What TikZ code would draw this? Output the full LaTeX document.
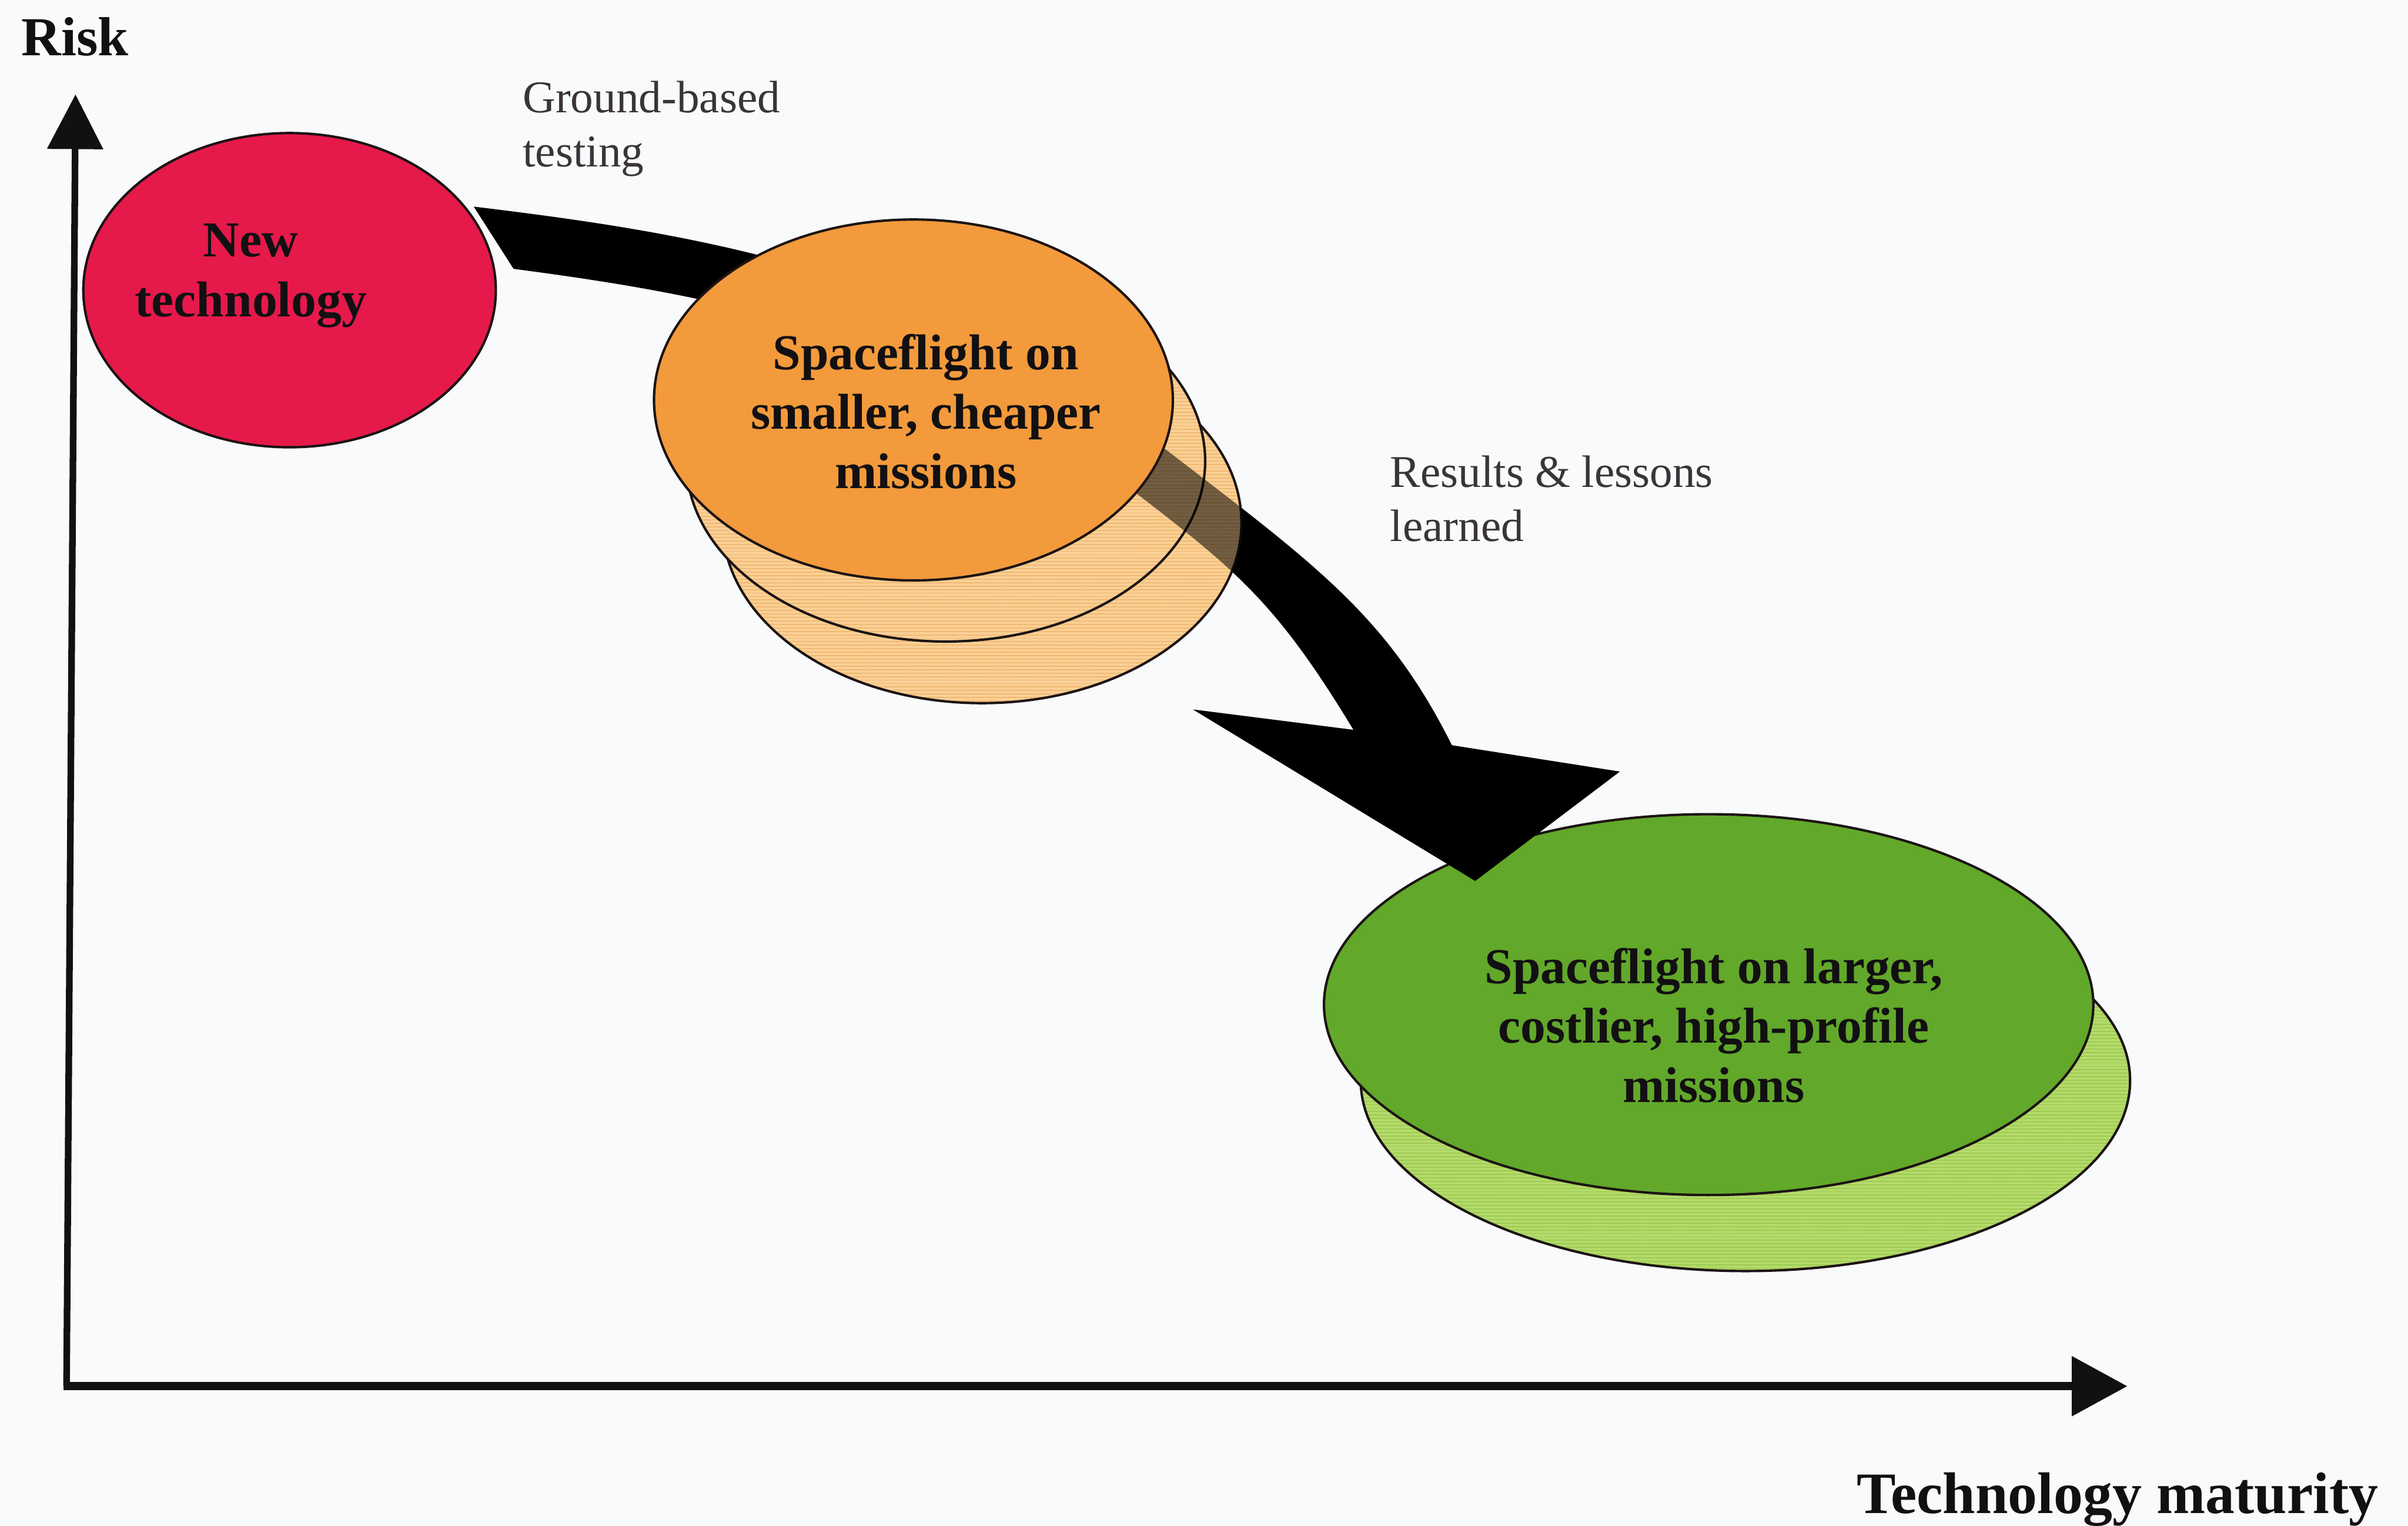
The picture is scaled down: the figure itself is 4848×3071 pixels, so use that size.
\documentclass[tikz,border=0pt]{standalone}
\usepackage{fontspec}
\setmainfont{Liberation Serif}
\usetikzlibrary{arrows.meta,shapes.geometric,patterns.meta}

\definecolor{paper}{HTML}{F8FAFC}
\definecolor{newred}{HTML}{E6194B}
\definecolor{orangetop}{HTML}{F29A3C}
\definecolor{orangelow}{HTML}{FAD096}
\definecolor{orangestripe}{HTML}{F0B870}
\definecolor{greentop}{HTML}{62A82A}
\definecolor{greenlow}{HTML}{B4DA6C}
\definecolor{greenstripe}{HTML}{9CCB4E}
\definecolor{rim}{HTML}{1C1414}
\definecolor{note}{HTML}{3A3438}
\definecolor{ink}{HTML}{121012}

% outline of the thick curved arrow from the small missions to the large ones
\newcommand{\bandshape}{%
  (bandtop) .. controls (1419,472) and (1885,549) .. (bandmidout)
  .. controls (2650,1138) and (2793,1240) .. (headout)
  -- (barbright) -- (headtip) -- (barbleft) -- (headin)
  .. controls (2575,1221.5) and (2497,1154) .. (bandmidin)
  .. controls (1877,677) and (1454,596) .. (bandbot)
  -- cycle}

\begin{document}
\begin{tikzpicture}[x=0.01cm,y=-0.01cm,
  bubble/.style={ellipse, draw=rim, line width=1.4pt, inner sep=0pt},
  striped/.style={preaction={fill=#1}, pattern={Lines[angle=0,distance=0.07cm,line width=0.022cm]}},
  boldlbl/.style={font=\bfseries\fontsize{28.8}{34}\selectfont, text=ink, align=center, inner sep=0pt},
  notelbl/.style={font=\fontsize{26}{31}\selectfont, text=note, align=left, inner sep=0pt},
  axislbl/.style={font=\bfseries\fontsize{31.5}{36}\selectfont, text=ink, inner sep=0pt},
  axisline/.style={draw=ink},
]
\useasboundingbox (0,0) rectangle (4848,3071);
\fill[paper] (0,0) rectangle (4848,3071);

% axes
\coordinate (origin) at (134,2790);
\coordinate (ytip) at (152,190);
\coordinate (xtip) at (4283,2790);
\draw[axisline, line width=3.8pt, -{Triangle[length=1.1cm,width=1.1cm]}] (origin) -- (ytip);
\draw[axisline, line width=4.8pt, -{Triangle[length=1.12cm,width=1.17cm]}] ([xshift=-1.8pt]origin) -- (xtip);

\node[axislbl, anchor=base west] (risk) at (43,112) {Risk};
\node[axislbl, font=\bfseries\fontsize{33.6}{38}\selectfont, anchor=base west] (maturity) at (3738,3046) {Technology maturity};

% new technology
\node[bubble, fill=newred, minimum width=8.3cm, minimum height=6.32cm] (newtech) at (583,584) {};

% large missions
\node[bubble, striped=greenlow, pattern color=greenstripe, minimum width=15.48cm, minimum height=7.66cm] (largeB) at (3514,2175) {};
\node[bubble, fill=greentop, minimum width=15.48cm, minimum height=7.66cm] (largeA) at (3440,2022) {};

% curved arrow
\coordinate (bandtop) at (954,416);
\coordinate (bandbot) at (1034,541);
\coordinate (bandmidout) at (2350,907);
\coordinate (bandmidin) at (2297,1000);
\coordinate (headout) at (2923,1500);
\coordinate (headin) at (2725,1469);
\coordinate (barbright) at (3261,1553);
\coordinate (barbleft) at (2402,1428);
\coordinate (headtip) at (2970,1773);
\fill[black] \bandshape;

% smaller missions, stacked
\node[bubble, striped=orangelow, pattern color=orangestripe, minimum width=10.44cm, minimum height=7.26cm] (smallC) at (1977,1052) {};
\node[bubble, striped=orangelow, pattern color=orangestripe, minimum width=10.44cm, minimum height=7.26cm] (smallB) at (1904,928) {};
\fill[black, fill opacity=0.55] \bandshape;
\node[bubble, fill=orangetop, minimum width=10.44cm, minimum height=7.26cm] (smallA) at (1839,805) {};

% labels
\node[boldlbl] (newtechtxt) at (505,555) {New\\technology};
\node[boldlbl] (smalltxt) at (1864,828) {Spaceflight on\\smaller, cheaper\\missions};
\node[boldlbl] (largetxt) at (3450,2064) {Spaceflight on larger,\\costlier, high-profile\\missions};
\node[notelbl, anchor=west] (ground) at (1052,259) {Ground-based\\testing};
\node[notelbl, anchor=west] (lessons) at (2798,1004) {Results \& lessons\\learned};
\end{tikzpicture}
\end{document}
